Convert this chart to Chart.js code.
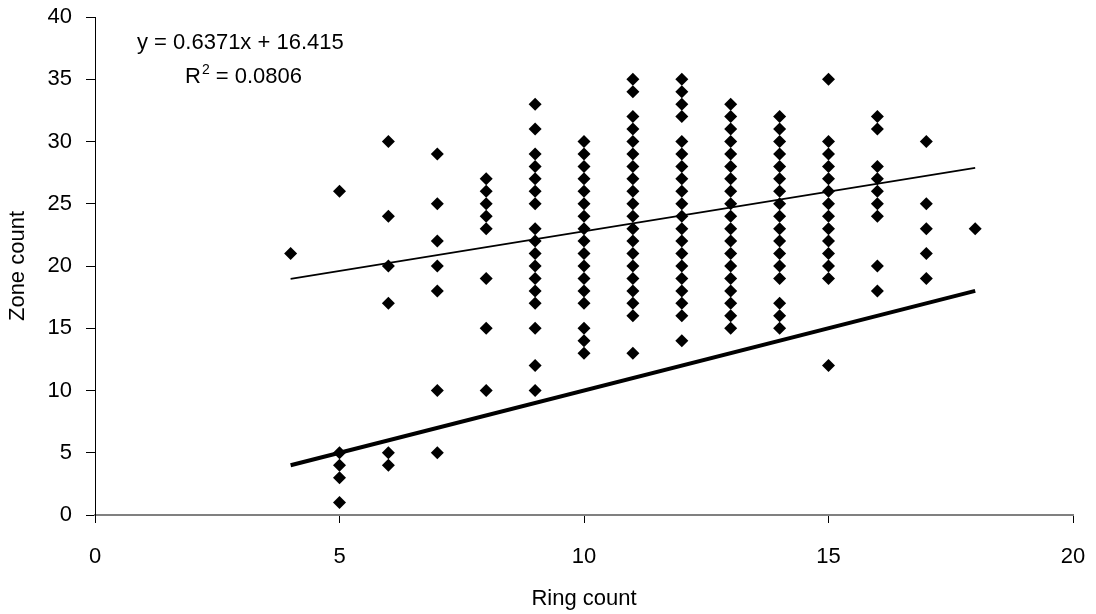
<!DOCTYPE html>
<html>
<head>
<meta charset="utf-8">
<script src="https://cdn.jsdelivr.net/npm/chart.js@4/dist/chart.umd.min.js"></script>
<style>
  html, body { margin: 0; padding: 0; background: #fff; }
  #wrap { width: 1096px; height: 614px; }
</style>
</head>
<body>
<div id="wrap"><canvas id="c" width="1096" height="614"></canvas></div>
<script>
// Ring counts (x) and the zone counts observed at each ring count (y)
const rings = [4, 5, 6, 7, 8, 9, 10, 11, 12, 13, 14, 15, 16, 17, 18];
const zonesByRing = [
  [21],
  [1, 3, 4, 5, 26],
  [4, 5, 17, 20, 24, 30],
  [5, 10, 18, 20, 22, 25, 29],
  [10, 15, 19, 23, 24, 25, 26, 27],
  [10, 12, 15, 17, 18, 19, 20, 21, 22, 23, 25, 26, 27, 28, 29, 31, 33],
  [13, 14, 15, 17, 18, 19, 20, 21, 22, 23, 24, 25, 26, 27, 28, 29, 30],
  [13, 16, 17, 18, 19, 20, 21, 22, 23, 24, 25, 26, 27, 28, 29, 30, 31, 32, 34, 35],
  [14, 16, 17, 18, 19, 20, 21, 22, 23, 24, 25, 26, 27, 28, 29, 30, 32, 33, 34, 35],
  [15, 16, 17, 18, 19, 20, 21, 22, 23, 24, 25, 26, 27, 28, 29, 30, 31, 32, 33],
  [15, 16, 17, 19, 20, 21, 22, 23, 24, 25, 26, 27, 28, 29, 30, 31, 32],
  [12, 19, 20, 21, 22, 23, 24, 25, 26, 27, 28, 29, 30, 35],
  [18, 20, 24, 25, 26, 27, 28, 31, 32],
  [19, 21, 23, 25, 30],
  [23]
];

// Linear trend fitted to the points, and the 1:1 reference line
const trendSlope = 0.6371;
const trendIntercept = 16.415;
const trendR2 = 0.0806;
const trendRange = [4, 18];
const oneToOne = [{ x: 4, y: 4 }, { x: 18, y: 18 }];

// Axis ranges and labels
const xTicks = [0, 5, 10, 15, 20];
const yTicks = [0, 5, 10, 15, 20, 25, 30, 35, 40];
const xTitle = 'Ring count';
const yTitle = 'Zone count';

const points = [];
rings.forEach((r, i) => zonesByRing[i].forEach(z => points.push({ x: r, y: z })));
const trendPoints = trendRange.map(x => ({ x, y: trendSlope * x + trendIntercept }));

const FONT = 'Liberation Sans, Arial, sans-serif';
const FS = 22;

// Trendline equation box in the top-left corner
const equationLabel = {
  id: 'equationLabel',
  afterDatasetsDraw(chart) {
    const ctx = chart.ctx;
    ctx.save();
    ctx.fillStyle = '#000';
    ctx.textBaseline = 'alphabetic';
    ctx.font = FS + 'px ' + FONT;
    ctx.textAlign = 'left';
    const eq = 'y = ' + trendSlope.toFixed(4) + 'x + ' + trendIntercept.toFixed(3);
    ctx.fillText(eq, 137, 49);
    // R² line with a raised small "2"
    let x = 185;
    const y = 83;
    ctx.fillText('R', x, y);
    x += ctx.measureText('R').width;
    ctx.font = '14px ' + FONT;
    ctx.fillText('2', x + 1, y - 9);
    x += ctx.measureText('2').width + 1;
    ctx.font = FS + 'px ' + FONT;
    ctx.fillText(' = ' + trendR2.toFixed(4), x, y);
    ctx.restore();
  }
};

// Keep the plot frame fixed: no extra room reserved for overhanging tick labels
function noOverhang(s) {
  s.paddingTop = 0; s.paddingBottom = 0; s.paddingLeft = 0; s.paddingRight = 0;
}

new Chart(document.getElementById('c'), {
  type: 'scatter',
  data: {
    datasets: [
      {
        label: 'Observations',
        data: points,
        pointStyle: 'rectRot',
        pointRadius: 6.5,
        pointBorderWidth: 0,
        backgroundColor: '#000',
        borderColor: '#000',
        order: 2
      },
      {
        label: 'Trend',
        data: trendPoints,
        showLine: true,
        pointRadius: 0,
        borderColor: '#000',
        borderWidth: 1.6,
        order: 1
      },
      {
        label: '1:1',
        data: oneToOne,
        showLine: true,
        pointRadius: 0,
        borderColor: '#000',
        borderWidth: 4,
        order: 1
      }
    ]
  },
  options: {
    responsive: false,
    animation: false,
    events: [],
    layout: { padding: { left: 0, right: 23, top: 17, bottom: 0 } },
    plugins: { legend: { display: false }, tooltip: { enabled: false } },
    scales: {
      x: {
        type: 'linear',
        min: 0,
        max: 20,
        afterBuildTicks: s => { s.ticks = xTicks.map(v => ({ value: v })); },
        afterFit: s => { s.height = 99; noOverhang(s); },
        ticks: { color: '#000', font: { family: FONT, size: FS }, padding: 21, maxRotation: 0 },
        grid: { drawOnChartArea: false, drawTicks: true, tickLength: 8, color: '#000', lineWidth: 1 },
        border: { color: '#808080', width: 2 },
        title: { display: true, text: xTitle, color: '#000', font: { family: FONT, size: FS }, padding: { top: 0, bottom: 2 } }
      },
      y: {
        type: 'linear',
        min: 0,
        max: 40,
        afterBuildTicks: s => { s.ticks = yTicks.map(v => ({ value: v })); },
        afterFit: s => { s.width = 95; noOverhang(s); },
        ticks: { color: '#000', font: { family: FONT, size: FS }, padding: 14 },
        grid: { drawOnChartArea: false, drawTicks: true, tickLength: 9, color: '#000', lineWidth: 1 },
        border: { color: '#000', width: 1 },
        title: { display: true, text: yTitle, color: '#000', font: { family: FONT, size: FS }, padding: { top: 5, bottom: 0 } }
      }
    }
  },
  plugins: [equationLabel]
});
</script>
</body>
</html>
